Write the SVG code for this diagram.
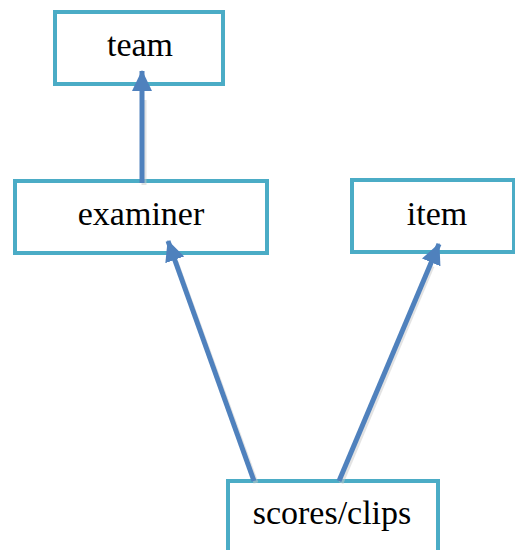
<svg xmlns="http://www.w3.org/2000/svg" width="515" height="550" viewBox="0 0 515 550">
<style>
.box{fill:#fff;stroke:#4BACC6;stroke-width:4}
.lbl{font-family:"Liberation Serif","Times New Roman",serif;font-size:34px;fill:#000;text-anchor:middle}
.edge{stroke:#4F81BD;stroke-width:5;fill:none}
.shadow{stroke:#c8c8c8;stroke-width:5;fill:none;opacity:0.5}
</style>
<defs>
<marker id="ah" markerUnits="userSpaceOnUse" markerWidth="22" markerHeight="22" viewBox="0 0 22 22" refX="20" refY="11" orient="auto">
<path d="M0,1 L21,11 L0,21 Z" fill="#4F81BD"/>
</marker>
</defs>
<g id="team"><rect class="box" x="55" y="12" width="168" height="72"/><text class="lbl" x="140" y="56">team</text></g>
<g id="examiner"><rect class="box" x="15" y="181" width="252" height="72"/><text class="lbl" x="141" y="225">examiner</text></g>
<g id="item"><rect class="box" x="352" y="180" width="162" height="72"/><text class="lbl" x="437" y="225">item</text></g>
<g id="scores"><rect class="box" x="228" y="481" width="210" height="90"/><text class="lbl" x="332" y="524">scores/clips</text></g>
<g id="connectors">
<line class="shadow" x1="144" y1="185" x2="144" y2="100"/>
<line class="shadow" x1="256" y1="483" x2="176" y2="262"/>
<line class="shadow" x1="341" y1="483" x2="432" y2="266"/>
<line class="edge" x1="142" y1="183" x2="142" y2="71" marker-end="url(#ah)"/>
<line class="edge" x1="254" y1="481" x2="168" y2="241" marker-end="url(#ah)"/>
<line class="edge" x1="339" y1="481" x2="439" y2="244" marker-end="url(#ah)"/>
</g>
</svg>
